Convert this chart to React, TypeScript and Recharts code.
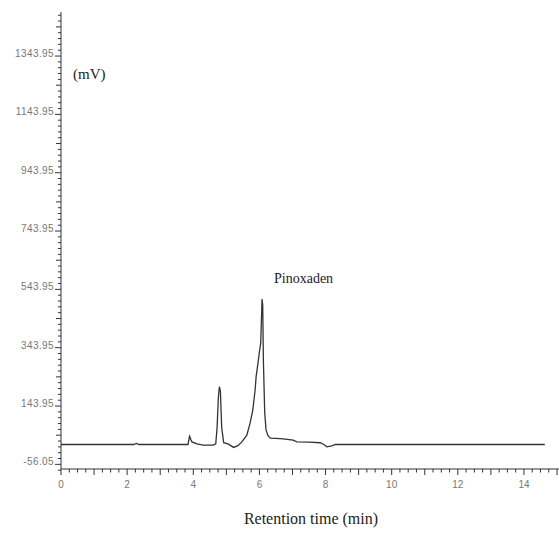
import * as React from "react";
import { LineChart, Line, XAxis, YAxis } from "recharts";

// retention time (min) and detector signal (mV)
const times = [
  0, 2.2, 2.28, 2.36, 3.84, 3.87, 3.89, 3.93, 3.96, 4.11, 4.3, 4.6, 4.68,
  4.72, 4.76, 4.79, 4.82, 4.86, 4.92, 5.05, 5.22, 5.35, 5.47, 5.62, 5.72, 5.8,
  5.87, 5.9, 5.97, 6.0, 6.04, 6.08, 6.1, 6.12, 6.16, 6.2, 6.26, 6.33, 6.5,
  6.72, 7.02, 7.13, 7.5, 7.84, 7.95, 8.04, 8.19, 8.3, 14.63,
];
const signal = [
  12, 12, 16, 12, 12, 30, 40, 28, 21, 14, 10, 10, 14, 70, 175, 210, 195, 70,
  18, 14, 2, 8, 21, 44, 86, 130, 199, 244, 302, 330, 360, 511, 490, 302, 123,
  62, 42, 34, 33, 31, 27, 21, 20, 18, 12, 4, 7, 12, 12,
];

const xLabels = [0, 2, 4, 6, 8, 10, 12, 14];
const yLabels = [-56.05, 143.95, 343.95, 543.95, 743.95, 943.95, 1143.95, 1343.95];

const data = times.map((t, i) => ({ t, mv: signal[i] }));

const xTicks: number[] = [];
for (let i = 0; i <= 60; i++) xTicks.push(i * 0.25);
const yTicks: number[] = [];
for (let k = -1; k <= 77; k++) yTicks.push(yLabels[0] + k * 20);

const AXIS = "#333";

function XTick(props: any) {
  const { x, y, payload } = props;
  const v = payload.value;
  const whole = Math.abs(v - Math.round(v)) < 1e-6;
  const showLabel = whole && xLabels.includes(Math.round(v));
  return (
    <g>
      <line x1={x} y1={y} x2={x} y2={y + (whole ? 6 : 3.5)} stroke={AXIS} />
      {showLabel && (
        <text
          x={x}
          y={y + 19}
          textAnchor="middle"
          fontSize={10}
          fill="#777"
          fontFamily="Liberation Sans"
        >
          {Math.round(v)}
        </text>
      )}
    </g>
  );
}

function YTick(props: any) {
  const { x, y, payload } = props;
  const k = Math.round((payload.value - yLabels[0]) / 20);
  const major = k % 10 === 0;
  const mid = k % 5 === 0;
  return (
    <g>
      <line x1={x} y1={y} x2={x - (major ? 6 : mid ? 5 : 3)} y2={y} stroke={AXIS} />
      {major && (
        <text
          x={x - 7}
          y={y + 1}
          textAnchor="end"
          fontSize={10}
          letterSpacing={0.4}
          fill="#777"
          fontFamily="Liberation Sans"
        >
          {payload.value.toFixed(2)}
        </text>
      )}
    </g>
  );
}

const serif = "'Liberation Serif', 'DejaVu Serif', serif";

export default function App() {
  return (
    <div style={{ position: "absolute", left: 0, top: 0, width: 559, height: 533, background: "#fff" }}>
      <LineChart
        width={559}
        height={533}
        data={data}
        margin={{ top: 12, right: 0, left: 0, bottom: 0 }}
      >
        <XAxis
          dataKey="t"
          type="number"
          domain={[0, 15.06]}
          ticks={xTicks}
          interval={0}
          tickSize={0}
          tickMargin={0}
          height={64}
          stroke={AXIS}
          tick={<XTick />}
        />
        <YAxis
          type="number"
          domain={[-72, 1495]}
          ticks={yTicks}
          interval={0}
          tickSize={0}
          tickMargin={0}
          width={61}
          stroke={AXIS}
          tick={<YTick />}
        />
        <Line
          type="linear"
          dataKey="mv"
          stroke="#333"
          strokeWidth={1.3}
          dot={false}
          isAnimationActive={false}
        />
      </LineChart>
      <div style={{ position: "absolute", left: 73, top: 66, fontFamily: serif, fontSize: 15, color: "#222" }}>
        (mV)
      </div>
      <div style={{ position: "absolute", left: 274, top: 271, fontFamily: serif, fontSize: 14, color: "#222" }}>
        Pinoxaden
      </div>
      <div
        style={{
          position: "absolute",
          left: 0,
          width: 622,
          top: 510,
          textAlign: "center",
          fontFamily: serif,
          fontSize: 16,
          lineHeight: "18px",
          color: "#222",
        }}
      >
        Retention time (min)
      </div>
    </div>
  );
}
